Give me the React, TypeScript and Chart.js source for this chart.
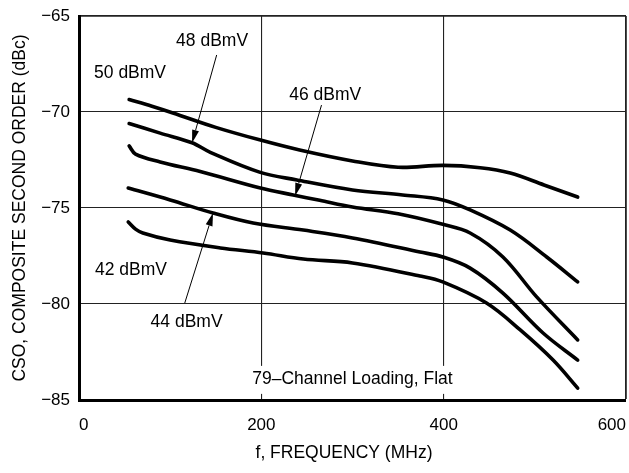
import React, { useEffect, useRef } from "react";
import { Chart, registerables } from "chart.js";

Chart.register(...registerables);

// ---- Data ----
const freq50 = [55, 80, 103, 150, 198, 242, 300, 350, 399, 440, 473, 510, 547];
const cso50 = [-69.35, -69.7, -70.05, -70.8, -71.45, -71.98, -72.55, -72.88, -72.78, -72.9, -73.18, -73.8, -74.43];

const freq48 = [55, 89, 124, 144, 198, 239, 300, 355, 399, 429, 473, 513, 547];
const cso48 = [-70.6, -71.1, -71.6, -72.1, -73.13, -73.54, -74.06, -74.32, -74.58, -75.1, -76.15, -77.55, -78.85];

const freq46 = [55, 62, 89, 133, 199, 235, 264, 300, 350, 399, 429, 465, 502, 547];
const cso46 = [-71.77, -72.19, -72.6, -73.1, -73.96, -74.32, -74.6, -74.95, -75.3, -75.85, -76.3, -77.55, -79.63, -81.87];

const freq44 = [54, 100, 147, 191, 246, 300, 374, 399, 429, 465, 509, 547];
const cso44 = [-73.96, -74.58, -75.26, -75.78, -76.15, -76.56, -77.29, -77.55, -78.13, -79.43, -81.51, -82.92];

const freq42 = [54, 62, 70, 100, 155, 202, 246, 300, 374, 399, 447, 484, 520, 547];
const cso42 = [-75.73, -76.1, -76.3, -76.67, -77.08, -77.34, -77.66, -77.86, -78.54, -78.85, -79.95, -81.35, -82.92, -84.38];

const seriesNames = ["50 dBmV", "48 dBmV", "46 dBmV", "44 dBmV", "42 dBmV"];
const xTicks = [0, 200, 400, 600];
const yTicks = [-65, -70, -75, -80, -85];

// Text labels in data coordinates (centre of text)
const labelTexts = ["50 dBmV", "48 dBmV", "46 dBmV", "44 dBmV", "42 dBmV", "79–Channel Loading, Flat"];
const labelX = [56, 146, 270, 118, 57, 300];
const labelY = [-67.97, -66.3, -69.11, -80.94, -78.23, -83.9];

// Arrows (from -> tip) in data coordinates
const arrowFromX = [151, 266, 116];
const arrowFromY = [-67.03, -69.64, -79.95];
const arrowToX = [124, 237, 147];
const arrowToY = [-71.61, -74.37, -75.26];

const xTitle = "f, FREQUENCY (MHz)";
const yTitle = "CSO, COMPOSITE SECOND ORDER (dBc)";

const FONT = "'Liberation Sans', Arial, Helvetica, sans-serif";

const pairs = (xs: number[], ys: number[]) => xs.map((x, i) => ({ x, y: ys[i] }));

const annotationPlugin = {
  id: "annotations",
  afterDatasetsDraw(chart: any) {
    const { ctx, scales } = chart;
    const xs = scales.x;
    const ys = scales.y;
    ctx.save();
    ctx.font = `17.5px ${FONT}`;
    ctx.textAlign = "center";
    ctx.textBaseline = "middle";
    labelTexts.forEach((t, i) => {
      const px = xs.getPixelForValue(labelX[i]);
      const py = ys.getPixelForValue(labelY[i]);
      if (i === labelTexts.length - 1) {
        const w = ctx.measureText(t).width;
        ctx.fillStyle = "#fff";
        ctx.fillRect(px - w / 2 - 5, py - 13, w + 10, 28);
      }
      ctx.fillStyle = "#000";
      ctx.fillText(t, px, py);
    });
    // arrows
    ctx.strokeStyle = "#000";
    ctx.fillStyle = "#000";
    ctx.lineWidth = 1;
    arrowFromX.forEach((fx, i) => {
      const x1 = xs.getPixelForValue(fx);
      const y1 = ys.getPixelForValue(arrowFromY[i]);
      const x2 = xs.getPixelForValue(arrowToX[i]);
      const y2 = ys.getPixelForValue(arrowToY[i]);
      const ang = Math.atan2(y2 - y1, x2 - x1);
      const len = 13;
      const half = 3.5;
      const bx = x2 - len * Math.cos(ang);
      const by = y2 - len * Math.sin(ang);
      ctx.beginPath();
      ctx.moveTo(x1, y1);
      ctx.lineTo(bx, by);
      ctx.stroke();
      ctx.beginPath();
      ctx.moveTo(x2, y2);
      ctx.lineTo(bx + half * Math.sin(ang), by - half * Math.cos(ang));
      ctx.lineTo(bx - half * Math.sin(ang), by + half * Math.cos(ang));
      ctx.closePath();
      ctx.fill();
    });
    ctx.restore();
  },
  afterDraw(chart: any) {
    const { ctx } = chart;
    ctx.save();
    ctx.fillStyle = "#000";
    ctx.font = `17.5px ${FONT}`;
    ctx.textAlign = "center";
    ctx.textBaseline = "middle";
    ctx.fillText(xTitle, 344, 453);
    ctx.translate(20, 208);
    ctx.rotate(-Math.PI / 2);
    ctx.fillText(yTitle, 0, 0);
    ctx.restore();
  },
};

export default function App() {
  const ref = useRef<HTMLCanvasElement | null>(null);

  useEffect(() => {
    document.body.style.margin = "0";
    const el = ref.current;
    if (!el) return;
    const allX = [freq50, freq48, freq46, freq44, freq42];
    const allY = [cso50, cso48, cso46, cso44, cso42];
    const chart = new Chart(el, {
      type: "line",
      data: {
        datasets: seriesNames.map((name, i) => ({
          label: name,
          data: pairs(allX[i], allY[i]),
          borderColor: "#000",
          borderWidth: 3.6,
          borderCapStyle: "round",
          borderJoinStyle: "round",
          pointRadius: 0,
          fill: false,
          tension: 0.35,
        })),
      },
      options: {
        animation: false,
        responsive: true,
        maintainAspectRatio: false,
        layout: { padding: { top: 16, right: 3, left: 0, bottom: 0 } },
        plugins: {
          legend: { display: false },
          tooltip: { enabled: false },
          title: { display: false },
        },
        scales: {
          x: {
            type: "linear",
            min: 0,
            max: 600,
            afterBuildTicks: (s: any) => {
              s.ticks = xTicks.map((v) => ({ value: v }));
            },
            afterFit: (s: any) => {
              s.height = 73;
              s.paddingLeft = 0;
              s.paddingRight = 0;
            },
            ticks: {
              color: "#000",
              font: { family: FONT, size: 17 },
              padding: 15,
              align: "inner",
              maxRotation: 0,
            },
            grid: {
              drawTicks: false,
              color: "#222",
              lineWidth: (c: any) => (c.tick && c.tick.value === 600 ? 1.8 : c.tick && c.tick.value === 0 ? 0 : 1.1),
            },
            border: { display: true, color: "#000", width: 3 },
          },
          y: {
            type: "linear",
            min: -85,
            max: -65,
            afterBuildTicks: (s: any) => {
              s.ticks = yTicks.map((v) => ({ value: v }));
            },
            afterFit: (s: any) => {
              s.width = 79;
              s.paddingTop = 0;
              s.paddingBottom = 0;
            },
            ticks: {
              color: "#000",
              font: { family: FONT, size: 17 },
              padding: 9,
              callback: (v: any) => String(v).replace("-", "\u2212"),
            },
            grid: {
              drawTicks: false,
              color: "#222",
              lineWidth: (c: any) => (c.tick && c.tick.value === -65 ? 1.8 : c.tick && c.tick.value === -85 ? 0 : 1.1),
            },
            border: { display: true, color: "#000", width: 3 },
          },
        },
      },
      plugins: [annotationPlugin],
    } as any);
    return () => chart.destroy();
  }, []);

  return (
    <div style={{ position: "fixed", left: 0, top: 0, width: 629, height: 473, background: "#fff" }}>
      <canvas ref={ref} />
    </div>
  );
}
